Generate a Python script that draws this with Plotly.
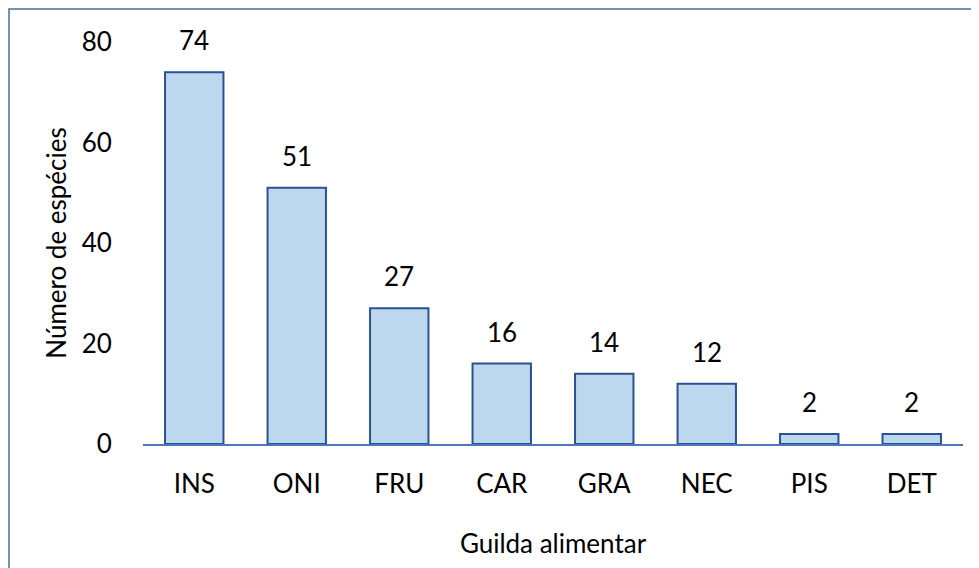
import plotly.graph_objects as go

categories = ["INS", "ONI", "FRU", "CAR", "GRA", "NEC", "PIS", "DET"]
values = [74, 51, 27, 16, 14, 12, 2, 2]
y_ticks = [0, 20, 40, 60, 80]

FONT = "Lato, 'Open Sans', sans-serif"
FS = 26

L, R, T, B = 135, 24, 34, 132
PW = 979 - L - R
PH = 568 - T - B

fig = go.Figure()
fig.add_trace(go.Bar(
    x=categories, y=values,
    marker=dict(color="#bdd7ee", line=dict(color="#2a5290", width=2)),
    width=0.57,
))
for c, v in zip(categories, values):
    fig.add_annotation(x=c, y=v, text=str(v), showarrow=False,
                       yanchor="bottom", yshift=14,
                       font=dict(family=FONT, size=FS, color="#000"))

fig.update_layout(
    width=979, height=568,
    margin=dict(l=L, r=R, t=T, b=B),
    plot_bgcolor="white", paper_bgcolor="white",
    showlegend=False,
    font=dict(family=FONT, size=FS, color="#000"),
    xaxis=dict(showline=True, linecolor="#4a78b8", linewidth=1.5, automargin=False,
               ticks="outside", ticklen=16, tickcolor="rgba(0,0,0,0)",
               tickfont=dict(size=FS),
               title=dict(text="Guilda alimentar", standoff=37, font=dict(size=FS)),
               showgrid=False),
    yaxis=dict(range=[0, 80], tickvals=y_ticks, showgrid=False, zeroline=False,
               automargin=False, tickfont=dict(size=FS),
               showline=False, ticks="outside", ticklen=25, tickcolor="rgba(0,0,0,0)",
               title=dict(text="Número de espécies", standoff=7, font=dict(size=FS))),
    shapes=[dict(type="rect", xref="paper", yref="paper",
                 x0=-(L - 1) / PW, x1=1.1, y0=-0.5, y1=1 + (T - 1) / PH,
                 line=dict(color="#41719c", width=1.5), layer="below")],
)
fig.write_html("out.html")
